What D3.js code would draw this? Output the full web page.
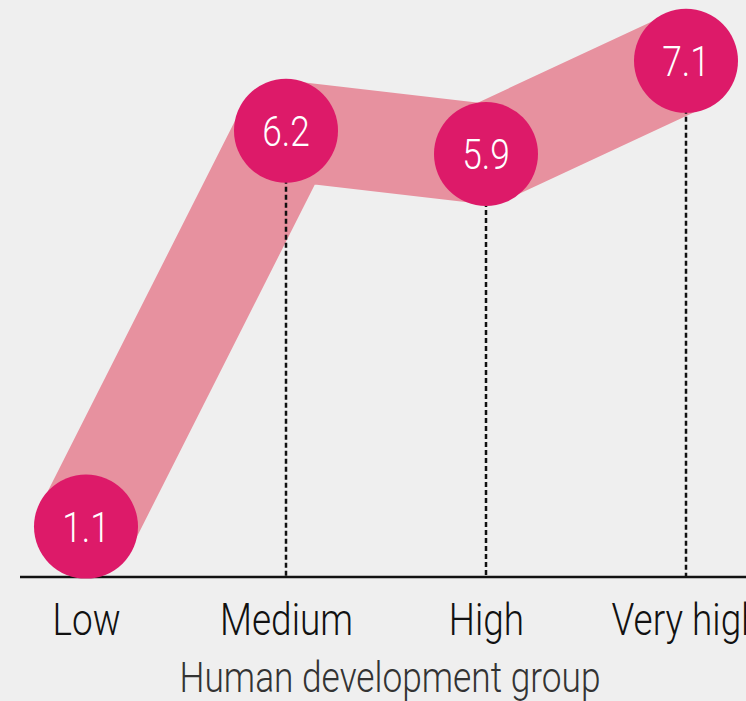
<!DOCTYPE html>
<html>
<head>
<meta charset="utf-8">
<script src="https://cdn.jsdelivr.net/npm/d3@7/dist/d3.min.js"></script>
<style>
html,body{margin:0;padding:0;background:#efefef;}
svg{display:block;}
</style>
</head>
<body>
<script>
const categories = ["Low", "Medium", "High", "Very high"];
const values = [1.1, 6.2, 5.9, 7.1];
const axisTitle = "Human development group";

const W = 746, H = 701;
const font = "Roboto, 'Liberation Sans', sans-serif";
const squeeze = 0.84;
const svg = d3.select("body").append("svg").attr("width", W).attr("height", H)
  .style("background", "#efefef");

const x = d3.scalePoint().domain(categories).range([86, 686]);
const y = d3.scaleLinear().domain([0, 8]).range([612, -9]);
const axisY = 577;

const data = categories.map((c, i) => ({c, v: values[i]}));

// band
svg.append("path").datum(data)
  .attr("d", d3.line().x(d => x(d.c)).y(d => y(d.v)))
  .attr("fill", "none").attr("stroke", "#e7919f").attr("stroke-width", 100)
  .attr("stroke-linejoin", "round").attr("stroke-linecap", "butt");

// dashed drop lines
svg.selectAll("line.drop").data(data).join("line").attr("class", "drop")
  .attr("x1", d => x(d.c)).attr("x2", d => x(d.c))
  .attr("y1", d => y(d.v)).attr("y2", axisY)
  .attr("stroke", "#111").attr("stroke-width", 2.5).attr("stroke-dasharray", "5,3");

// axis
const axis = d3.axisBottom(x).tickSize(0).tickSizeOuter(0).tickPadding(0);
const gx = svg.append("g").attr("transform", `translate(0,${axisY})`).call(axis);
gx.select(".domain").remove();
gx.append("line").attr("x1", 20).attr("x2", W).attr("y1", 0).attr("y2", 0)
  .attr("stroke", "#111").attr("stroke-width", 2.5);
gx.selectAll(".tick text").attr("dy", null).attr("y", 58)
  .attr("transform", `scale(${squeeze},1)`)
  .style("font-family", font).style("font-size", "44px").style("font-weight", 300)
  .attr("fill", "#111");

// circles
svg.selectAll("circle.pt").data(data).join("circle").attr("class", "pt")
  .attr("cx", d => x(d.c)).attr("cy", d => y(d.v)).attr("r", 52)
  .attr("fill", "#dd1a69");

svg.selectAll("g.val").data(data).join("g").attr("class", "val")
  .attr("transform", d => `translate(${x(d.c)},${y(d.v) + 15}) scale(${squeeze},1)`)
  .append("text")
  .attr("text-anchor", "middle").attr("fill", "#fff")
  .style("font-family", font).style("font-size", "42px").style("font-weight", 300)
  .text(d => d3.format(".1f")(d.v));

svg.append("g").attr("transform", `translate(390,692) scale(${squeeze},1)`)
  .append("text").attr("text-anchor", "middle")
  .style("font-family", font).style("font-size", "42px").style("font-weight", 300)
  .attr("fill", "#333")
  .text(axisTitle);
</script>
</body>
</html>
